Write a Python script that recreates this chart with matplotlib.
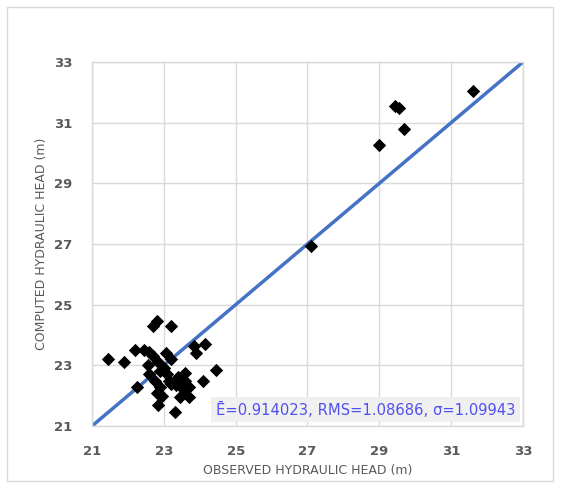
import matplotlib
matplotlib.use("Agg")
import matplotlib.pyplot as plt
from matplotlib.patches import Rectangle

observed = [21.45, 21.9, 22.2, 22.45, 22.6, 22.7, 22.55, 22.7, 22.8, 23.2,
            22.85, 22.9, 23.05, 23.0, 23.1, 23.2, 22.25, 22.6, 22.75, 22.9,
            22.95, 22.8, 22.85, 23.2, 23.35, 23.5, 23.6, 23.55, 23.7, 23.6,
            23.4, 23.3, 23.45, 23.7, 23.9, 23.85, 24.15, 24.1, 24.45, 23.15,
            27.1, 29.0, 29.45, 29.55, 29.7, 31.6]
computed = [23.2, 23.1, 23.5, 23.5, 23.45, 23.3, 23.0, 24.3, 24.45, 24.3,
            23.1, 22.8, 23.4, 22.9, 22.7, 23.2, 22.3, 22.7, 22.5, 22.3,
            22.0, 22.1, 21.7, 22.4, 22.35, 22.4, 22.5, 22.2, 22.3, 22.75,
            22.6, 21.45, 21.95, 21.95, 23.4, 23.65, 23.7, 22.5, 22.85, 22.5,
            26.95, 30.25, 31.55, 31.5, 30.8, 32.05]
line_range = [21, 33]
ticks = [21, 23, 25, 27, 29, 31, 33]
stats_text = "Ē=0.914023, RMS=1.08686, σ=1.09943"

fig = plt.figure(figsize=(5.62, 4.87), dpi=100)
fig.patch.set_facecolor("white")
fig.add_artist(Rectangle((7/562, 1-481/487), 546/562, 474/487,
                         transform=fig.transFigure, fill=False,
                         edgecolor="#D9D9D9", linewidth=1.0))

ax = fig.add_axes([92/562, 1-426/487, 431/562, 364/487])
ax.set_xlim(21, 33)
ax.set_ylim(21, 33)
ax.set_xticks(ticks)
ax.set_yticks(ticks)
ax.grid(True, color="#D9D9D9", linewidth=1.0)
ax.set_axisbelow(True)
for s in ax.spines.values():
    s.set_color("#D9D9D9")
    s.set_linewidth(1.0)
ax.tick_params(length=0, pad=14, labelsize=9.5, labelcolor="#595959")
for lab in ax.get_xticklabels() + ax.get_yticklabels():
    lab.set_fontweight("bold")

ax.plot(line_range, line_range, color="#4472C4", linewidth=2.5, zorder=2)
ax.scatter(observed, computed, marker="D", s=46, color="black", zorder=3,
           linewidths=0)

ax.text(0.982, 0.045, stats_text, transform=ax.transAxes, ha="right", va="center",
        fontsize=10.6, color="#5050F0", zorder=4,
        bbox=dict(boxstyle="square,pad=0.3", facecolor="#F0F0F0", edgecolor="none"))

ax.set_xlabel("OBSERVED HYDRAULIC HEAD (m)", fontsize=9, color="#595959", labelpad=4)
ax.set_ylabel("COMPUTED HYDRAULIC HEAD (m)", fontsize=9, color="#595959", labelpad=4)

fig.savefig("out.png", dpi=100)
